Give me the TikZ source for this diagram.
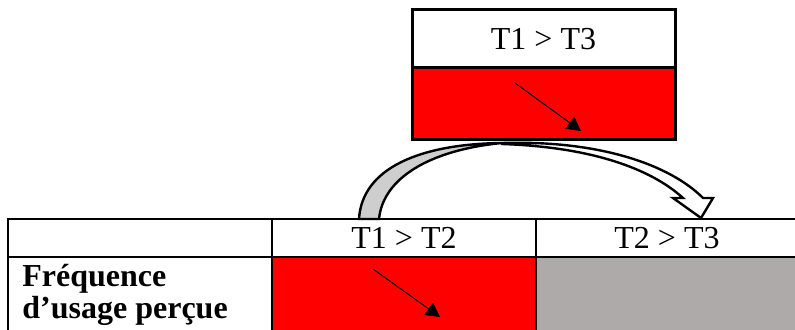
\documentclass[tikz,border=0pt]{standalone}
\usepackage{fontspec}
\setmainfont{Liberation Serif}
\usetikzlibrary{positioning,arrows.meta}
\definecolor{cellred}{RGB}{255,0,0}
\definecolor{cellgray}{RGB}{174,170,170}
\definecolor{bandgray}{RGB}{206,206,206}

\begin{document}
\begin{tikzpicture}[x=0.5pt,y=-0.5pt,font=\fontsize{16}{15.5}\selectfont,
	topcell/.style={draw, line width=1.5pt, minimum width=131.5pt, inner sep=0pt, outer sep=0pt},
	cell/.style={draw, line width=1pt, minimum height=19pt, inner sep=0pt, outer sep=0pt},
	trend/.style={line width=0.5pt, -{Triangle[length=7pt,width=7.5pt]}},
	band/.style={draw, line width=1.2pt, line join=miter}]
			\path[use as bounding box, clip] (0,0) rectangle (795,330);
			
			% upper box
			\node[topcell, minimum height=29pt, anchor=north west] (t13) at (412,10) {T1 > T3};
			\node[topcell, minimum height=36pt, fill=cellred] (t13r) [below=0pt of t13] {};
			
			% curved arrow
			\path[band, fill=bandgray] (359,219) .. controls (362,168) and (420,144) .. (502,143)
			.. controls (430,150) and (383,178) .. (379,219) -- cycle;
			\path[band, fill=white] (502,143) .. controls (600,140) and (670,165) .. (703,198)
			-- (713,198) -- (701,218) -- (673,198) -- (683,198)
			.. controls (650,168) and (590,147) .. (502,144) -- cycle;
			
			% table
			\node[cell, minimum width=132pt, anchor=north west] (hd0) at (8,219) {};
			\node[cell, minimum width=132pt] (hd12) [right=0pt of hd0] {T1 > T2};
			\node[cell, minimum width=131pt] (hd23) [right=0pt of hd12] {T2 > T3};
			\node[cell, minimum width=132pt, minimum height=50pt] (lab) [below=0pt of hd0] {};
			\node[cell, minimum width=132pt, minimum height=50pt, fill=cellred] (c12) [below=0pt of hd12] {};
			\node[cell, minimum width=131pt, minimum height=50pt, fill=cellgray] (c23) [below=0pt of hd23] {};
			\node[align=left, inner sep=0pt, anchor=base west, font=\fontsize{16}{15.5}\selectfont\bfseries] (freq) at (22,318) {Fréquence\\d’usage perçue};
			
			% trend arrows
			\coordinate (p1) at (515,83);
			\coordinate (p2) at (581,131);
			\coordinate (q1) at (373,269);
			\coordinate (q2) at (440,317);
			\draw[trend] (p1) -- (p2);
			\draw[trend] (q1) -- (q2);
			
			\end{tikzpicture}
\end{document}
